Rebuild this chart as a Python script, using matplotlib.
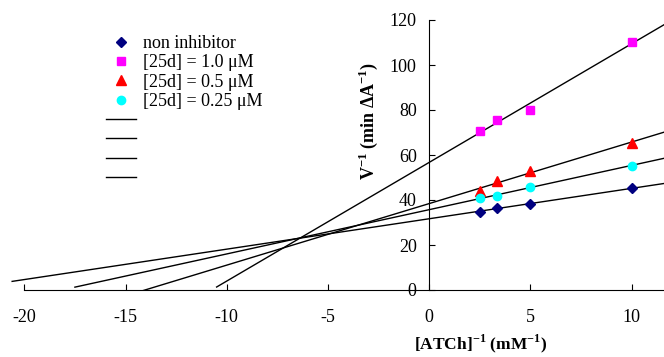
import matplotlib
matplotlib.use("Agg")
import matplotlib.pyplot as plt
from matplotlib.lines import Line2D
import numpy as np

plt.rcParams['font.family'] = ['Liberation Serif', 'DejaVu Serif']
plt.rcParams['mathtext.fontset'] = 'custom'
plt.rcParams['mathtext.rm'] = 'Liberation Serif'
plt.rcParams['mathtext.bf'] = 'Liberation Serif:bold'
plt.rcParams['axes.unicode_minus'] = False

# 1/[ATCh] (mM^-1)
inv_s = [2.5, 3.33, 5.0, 10.0]

# 1/V values
v_none = [34.8, 36.6, 38.2, 45.2]
v_10 = [70.7, 75.6, 80.1, 110.3]
v_05 = [43.8, 48.6, 52.8, 65.4]
v_025 = [40.7, 41.9, 45.9, 55.3]

series = [v_none, v_10, v_05, v_025]
labels = ['non inhibitor', '[25d] = 1.0 μM', '[25d] = 0.5 μM', '[25d] = 0.25 μM']
colors = ['#000080', '#FF00FF', '#FF0000', '#00FFFF']
markers = ['D', 's', '^', 'o']
msizes = [5, 6, 6.5, 6]
# where each trend line starts on the left
line_start = [-20.6, -10.5, -14.3, -17.5]
x_right = 11.6

fig = plt.figure(figsize=(6.64, 3.57), dpi=100)
ax = fig.add_axes([0.0, 67/357, 1.0, 270/357])

for vals, st in zip(series, line_start):
    k, b = np.polyfit(inv_s, vals, 1)
    xx = np.array([st, x_right])
    ax.plot(xx, k*xx + b, color='black', lw=1, zorder=2)

for vals, c, m, ms in zip(series, colors, markers, msizes):
    ax.plot(inv_s, vals, ls='none', marker=m, color=c, ms=ms, zorder=3)

ax.set_xlim(-21.2, x_right)
ax.set_ylim(0, 120)
ax.spines['left'].set_position(('data', 0))
ax.spines['right'].set_visible(False)
ax.spines['top'].set_visible(False)
ax.spines['bottom'].set_bounds(-20, x_right)
ax.set_xticks([-20, -15, -10, -5, 0, 5, 10])
ax.set_yticks([0, 20, 40, 60, 80, 100, 120])
ax.tick_params(axis='x', direction='in', length=4, pad=14, labelsize=13)
ax.tick_params(axis='y', direction='in', length=4, pad=9, labelsize=13)

fig.text(481/664, 1 - 344/357, r'[ATCh]$^{\mathbf{-1}}$ (mM$^{\mathbf{-1}}$)',
         ha='center', va='center', fontsize=12.5, fontweight='bold')
fig.text(368/664, 1 - 121/357, r'V$^{\mathbf{-1}}$ (min ΔA$^{\mathbf{-1}}$)',
         ha='center', va='center', fontsize=13, fontweight='bold', rotation=90)

handles = []
for c, m, ms in zip(colors, markers, msizes):
    handles.append(Line2D([], [], ls='none', marker=m, color=c, ms=ms))
for i in range(4):
    handles.append(Line2D([], [], color='black', lw=1))
leg_labels = labels + [' '] * 4
ax.legend(handles, leg_labels, loc='upper left', bbox_to_anchor=(106/664, 1 - 35/357),
          bbox_transform=fig.transFigure, frameon=False, fontsize=13,
          handlelength=1.67, handletextpad=0.4, labelspacing=0.13, borderpad=0,
          borderaxespad=0)

fig.savefig('out.png', dpi=100)
